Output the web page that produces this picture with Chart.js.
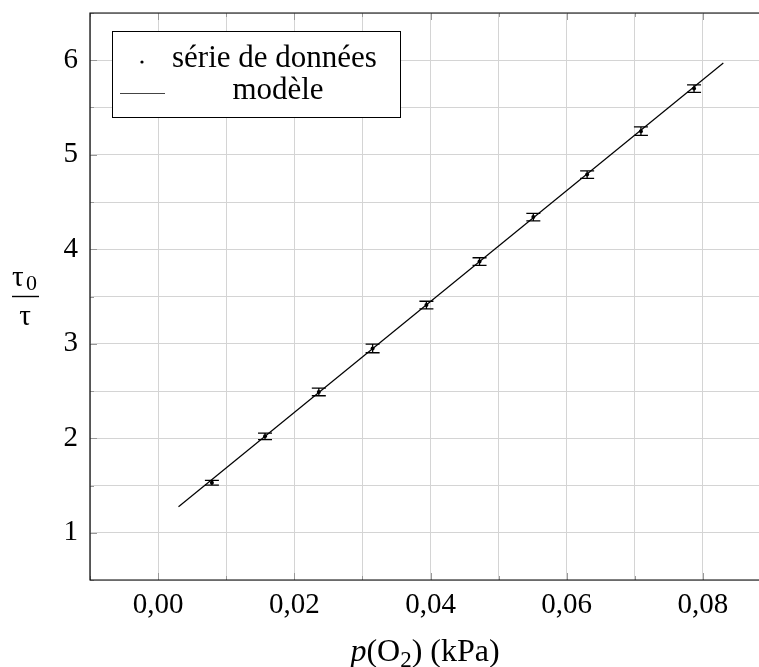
<!DOCTYPE html>
<html lang="fr">
<head>
<meta charset="UTF-8" />
<title>tau0/tau vs p(O2)</title>
<style>
  html, body { margin: 0; padding: 0; background: #fff; overflow: hidden; }
  #wrap { position: absolute; left: 0; top: 0; }
</style>
</head>
<body>
<div id="wrap"><canvas id="chart" width="780" height="667"></canvas></div>

<script src="https://cdn.jsdelivr.net/npm/chart.js"></script>
<script>
  // data
  const pO2 = [0.0079, 0.0157, 0.0236, 0.0315, 0.0394, 0.0472, 0.0551, 0.0630, 0.0709, 0.0787];
  const ratio = [1.53, 2.02, 2.49, 2.95, 3.41, 3.87, 4.34, 4.79, 5.25, 5.70];
  const ratioErr = [0.025, 0.035, 0.04, 0.045, 0.04, 0.04, 0.04, 0.04, 0.045, 0.04];
  const modelX = [0.003, 0.083];
  const modelY = [1.275, 5.97];

  const SERIF = "'Liberation Serif', 'DejaVu Serif', serif";

  const points = pO2.map((x, i) => ({ x: x, y: ratio[i] }));
  const model = modelX.map((x, i) => ({ x: x, y: modelY[i] }));

  // error bars, inner tick marks, frame, titles and legend
  const extras = {
    id: 'extras',
    afterDatasetsDraw(chart) {
      const { ctx, chartArea: a, scales: { x, y } } = chart;
      ctx.save();
      // error bars
      ctx.strokeStyle = '#000';
      ctx.lineWidth = 1.3;
      pO2.forEach((v, i) => {
        const px = x.getPixelForValue(v);
        const top = y.getPixelForValue(ratio[i] + ratioErr[i]);
        const bot = y.getPixelForValue(ratio[i] - ratioErr[i]);
        ctx.beginPath();
        ctx.moveTo(px, top); ctx.lineTo(px, bot);
        ctx.moveTo(px - 7, top); ctx.lineTo(px + 7, top);
        ctx.moveTo(px - 7, bot); ctx.lineTo(px + 7, bot);
        ctx.stroke();
      });

      // inner ticks
      ctx.strokeStyle = '#999';
      ctx.lineWidth = 1;
      for (let k = -1; k <= 9; k++) {
        const px = Math.round(x.getPixelForValue(k / 100)) + 0.5;
        const len = k % 2 === 0 ? 7 : 4;
        ctx.beginPath();
        ctx.moveTo(px, a.bottom); ctx.lineTo(px, a.bottom - len);
        ctx.moveTo(px, a.top); ctx.lineTo(px, a.top + len);
        ctx.stroke();
      }
      for (let k = 1; k <= 13; k++) {
        const py = Math.round(y.getPixelForValue(k / 2)) + 0.5;
        const len = k % 2 === 0 ? 7 : 4;
        ctx.beginPath();
        ctx.moveTo(a.left, py); ctx.lineTo(a.left + len, py);
        ctx.stroke();
      }

      // frame
      ctx.strokeStyle = '#000';
      ctx.lineWidth = 1.2;
      ctx.beginPath();
      ctx.moveTo(a.right + 5, a.top); ctx.lineTo(a.left, a.top);
      ctx.lineTo(a.left, a.bottom); ctx.lineTo(a.right + 5, a.bottom);
      ctx.stroke();

      // legend
      ctx.fillStyle = '#fff';
      ctx.fillRect(112, 31, 288, 86);
      ctx.strokeStyle = '#000';
      ctx.lineWidth = 1;
      ctx.strokeRect(112.5, 31.5, 288, 86);
      ctx.fillStyle = '#000';
      ctx.beginPath();
      ctx.arc(142, 62, 1.6, 0, Math.PI * 2);
      ctx.fill();
      ctx.strokeStyle = '#444';
      ctx.beginPath();
      ctx.moveTo(120, 93.5); ctx.lineTo(165, 93.5);
      ctx.stroke();
      ctx.font = '31px ' + SERIF;
      ctx.textBaseline = 'middle';
      ctx.textAlign = 'left';
      ctx.fillText('série de données', 172, 59);
      ctx.textAlign = 'center';
      ctx.fillText('modèle', 278, 91);

      // y title: tau0 / tau
      ctx.textAlign = 'left';
      ctx.textBaseline = 'alphabetic';
      ctx.font = '29px ' + SERIF;
      ctx.fillText('τ', 12, 286);
      ctx.font = '22px ' + SERIF;
      ctx.fillText('0', 26, 290);
      ctx.lineWidth = 1.4;
      ctx.strokeStyle = '#000';
      ctx.beginPath();
      ctx.moveTo(12, 296.5); ctx.lineTo(39, 296.5);
      ctx.stroke();
      ctx.font = '29px ' + SERIF;
      ctx.textAlign = 'center';
      ctx.fillText('τ', 25, 325);

      // x title: p(O2) (kPa)
      const parts = [
        { t: 'p', f: 'italic 32px ' + SERIF, dy: 0 },
        { t: '(O', f: '32px ' + SERIF, dy: 0 },
        { t: '2', f: '23px ' + SERIF, dy: 6 },
        { t: ') (kPa)', f: '32px ' + SERIF, dy: 0 }
      ];
      let w = 0;
      parts.forEach(p => { ctx.font = p.f; w += ctx.measureText(p.t).width; });
      let cx = 425 - w / 2;
      ctx.textAlign = 'left';
      parts.forEach(p => {
        ctx.font = p.f;
        ctx.fillText(p.t, cx, 661 + p.dy);
        cx += ctx.measureText(p.t).width;
      });
      ctx.restore();
    }
  };

  new Chart(document.getElementById('chart'), {
    type: 'scatter',
    data: {
      datasets: [
        {
          label: 'modèle',
          data: model,
          showLine: true,
          borderColor: '#000',
          borderWidth: 1.2,
          pointRadius: 0,
          fill: false
        },
        {
          label: 'série de données',
          data: points,
          pointRadius: 2,
          pointBackgroundColor: '#000',
          pointBorderColor: '#000',
          borderWidth: 0
        }
      ]
    },
    options: {
      responsive: false,
      animation: false,
      layout: { padding: { top: 0, right: 9, left: 0, bottom: 0 } },
      plugins: {
        legend: { display: false },
        tooltip: { enabled: false }
      },
      scales: {
        x: {
          type: 'linear',
          min: -0.01,
          max: 0.09,
          afterFit(s) { s.height = 87; },
          afterBuildTicks(s) {
            s.ticks = [];
            for (let k = -1; k <= 9; k++) s.ticks.push({ value: k / 100 });
          },
          grid: { color: '#d4d4d4', lineWidth: 1, drawTicks: false },
          border: { display: false },
          ticks: {
            padding: 8,
            maxRotation: 0,
            autoSkip: false,
            color: '#000',
            font: { family: SERIF, size: 29 },
            callback(v) {
              const k = Math.round(v * 100);
              return (k % 2 === 0 && k >= 0 && k <= 8) ? (k / 100).toFixed(2).replace('.', ',') : '';
            }
          }
        },
        y: {
          min: 0.5,
          max: 6.5,
          afterFit(s) { s.width = 90; s.paddingTop = 13; },
          afterBuildTicks(s) {
            s.ticks = [];
            for (let k = 1; k <= 13; k++) s.ticks.push({ value: k / 2 });
          },
          grid: { color: '#d4d4d4', lineWidth: 1, drawTicks: false },
          border: { display: false },
          ticks: {
            padding: 12,
            autoSkip: false,
            color: '#000',
            font: { family: SERIF, size: 29 },
            callback(v) {
              return (Math.abs(v - Math.round(v)) < 1e-6) ? String(Math.round(v)) : '';
            }
          }
        }
      }
    },
    plugins: [extras]
  });
</script>
</body>
</html>
